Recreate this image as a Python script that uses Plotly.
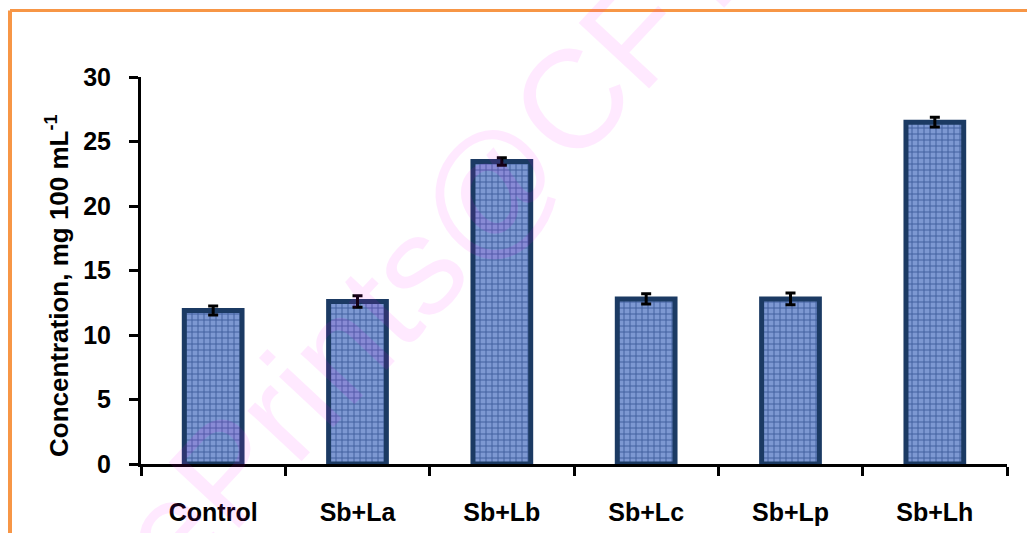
import plotly.graph_objects as go

# Treatments and measured concentration (mg 100 mL^-1) with standard errors
categories = ["Control", "Sb+La", "Sb+Lb", "Sb+Lc", "Sb+Lp", "Sb+Lh"]
concentration = [11.9, 12.6, 23.45, 12.8, 12.8, 26.5]
std_error = [0.35, 0.45, 0.3, 0.4, 0.45, 0.38]
y_ticks = [0, 5, 10, 15, 20, 25, 30]
y_title = "Concentration, mg 100 mL<sup>-1</sup>"

W, H = 1027, 533
ML, MR, MT, MB = 141, 20, 77, 69
PW, PH = W - ML - MR, H - MT - MB

FONT = "Liberation Sans, Arial, sans-serif"


def px_to_paper(x, y):
    return (x - ML) / PW, 1 - (y - MT) / PH


fig = go.Figure()

fig.add_trace(go.Bar(
    x=categories,
    y=concentration,
    width=0.40,
    marker=dict(
        color="#7d98d2",
        line=dict(color="#1b3a63", width=5),
        pattern=dict(shape="+", fillmode="replace", bgcolor="#7d98d2",
                     fgcolor="#42609f", size=6, solidity=0.3),
    ),
    error_y=dict(type="data", array=std_error, visible=True,
                 color="black", thickness=3, width=5),
    hoverinfo="x+y",
))

# orange frame around the figure
fx0, _ = px_to_paper(10, 0)
_, fy1 = px_to_paper(0, 10.5)
fig.add_shape(type="line", xref="paper", yref="paper",
              x0=fx0, x1=px_to_paper(W + 5, 0)[0], y0=fy1, y1=fy1,
              line=dict(color="#f79646", width=3), layer="above")
fig.add_shape(type="line", xref="paper", yref="paper",
              x0=fx0, x1=fx0, y0=fy1, y1=px_to_paper(0, H + 5)[1],
              line=dict(color="#f79646", width=4), layer="above")

# y-axis title, placed as a rotated annotation
tx, ty = px_to_paper(57, 286)
fig.add_annotation(
    text=y_title, xref="paper", yref="paper", x=tx, y=ty,
    xanchor="center", yanchor="middle", showarrow=False, textangle=-90,
    font=dict(family=FONT, size=26, weight="bold", color="black"),
)

# repository watermark
wx, wy = px_to_paper(480, 198)
fig.add_annotation(
    text="ePrints@CFTRI", xref="paper", yref="paper", x=wx, y=wy,
    xanchor="center", yanchor="middle", showarrow=False, textangle=-47,
    font=dict(family="Liberation Sans, Arial, sans-serif", size=140,
              color="rgba(255,0,255,0.085)"),
)

fig.update_layout(
    width=W, height=H,
    margin=dict(l=ML, r=MR, t=MT, b=MB, autoexpand=False),
    paper_bgcolor="white", plot_bgcolor="white",
    showlegend=False,
    font=dict(family=FONT, color="black"),
    bargap=0.6,
)

fig.update_xaxes(
    automargin=False,
    showline=True, linecolor="black", linewidth=3,
    ticks="outside", tickson="boundaries", ticklen=9, tickwidth=3, tickcolor="black",
    tickfont=dict(family=FONT, size=25, weight="bold"),
    ticklabelstandoff=24,
    showgrid=False, zeroline=False,
    range=[-0.5, 5.5],
)

fig.update_yaxes(
    automargin=False,
    range=[0, 30], tickvals=y_ticks,
    showline=True, linecolor="black", linewidth=3,
    ticks="outside", ticklen=9, tickwidth=3, tickcolor="black",
    tickfont=dict(family=FONT, size=25, weight="bold"),
    ticklabelstandoff=13,
    showgrid=False, zeroline=False,
)

fig.write_html("out.html")
